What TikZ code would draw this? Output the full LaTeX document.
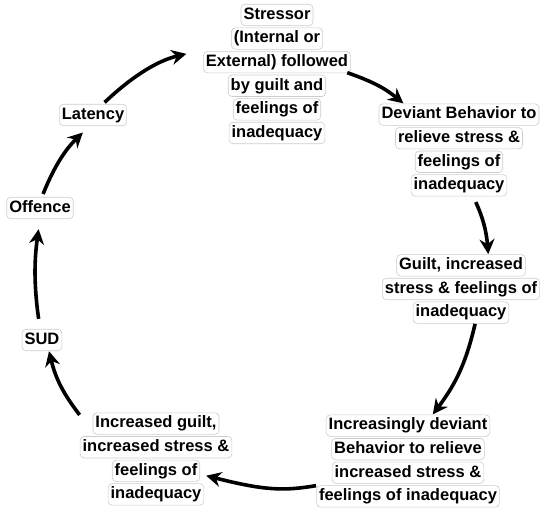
\documentclass[tikz,border=0pt]{standalone}
\usepackage{fontspec}
\setmainfont{Liberation Sans}
\usetikzlibrary{arrows.meta}
\tikzset{halo/.style={draw=gray!40, fill=white, line width=0.6pt, rounded corners=4pt, inner xsep=2.5pt, inner ysep=3pt, text height=12pt, text depth=3.5pt}}
\newcommand{\hl}[1]{\tikz[baseline=0pt]\node[halo, anchor=base] at (0,0) {#1};}
\begin{document}
\begin{tikzpicture}[x=1pt, y=1pt,
		stage/.style={align=center, inner sep=0pt, font=\bfseries\fontsize{16.5}{23.6}\selectfont},
		arrow/.style={-{Stealth[length=15pt, width=15pt, inset=5pt]}, line width=3.6pt}
	]
	\useasboundingbox (0,0) rectangle (541,509);
	% Nodes
	\node[stage] (stressor) at (277,435) {\hl{Stressor}\\\hl{(Internal or}\\\hl{External) followed}\\\hl{by guilt and}\\\hl{feelings of}\\\hl{inadequacy}};
	\node[stage] (deviant) at (459,359) {\hl{Deviant Behavior to}\\\hl{relieve stress \&}\\\hl{feelings of}\\\hl{inadequacy}};
	\node[stage] (guilt) at (461,220) {\hl{Guilt, increased}\\\hl{stress \& feelings of}\\\hl{inadequacy}};
	\node[stage] (increasing) at (408,48) {\hl{Increasingly deviant}\\\hl{Behavior to relieve}\\\hl{increased stress \&}\\\hl{feelings of inadequacy}};
	\node[stage] (incguilt) at (156,50) {\hl{Increased guilt,}\\\hl{increased stress \&}\\\hl{feelings of}\\\hl{inadequacy}};
	\node[stage] (sud) at (42,169) {\hl{SUD}};
	\node[stage] (offence) at (40,301) {\hl{Offence}};
	\node[stage] (latency) at (93,394) {\hl{Latency}};
	% Arrows
	\draw[arrow, shorten <=2pt, shorten >=17pt] (latency.48) to[bend left=15] (stressor.162);
	\draw[arrow, shorten <=-4pt] (stressor.east) to[bend left=10] (deviant.140);
	\draw[arrow, shorten <=6pt] (deviant.-73) to[bend left=10] (guilt.52);
	\draw[arrow] (guilt.-68) to[bend left=12] (increasing.62);
	\draw[arrow, shorten >=-27pt] (increasing.195) to[bend left=12] (incguilt.-17);
	\draw[arrow] (incguilt.150) to[bend left=12] (sud.-58);
	\draw[arrow, shorten <=10pt, shorten >=10pt] (sud.100) to[bend left=8] (offence.-90);
	\draw[arrow, shorten <=3pt, shorten >=9pt] (offence.80) to[bend left=12] (latency.-108);
\end{tikzpicture}
\end{document}
